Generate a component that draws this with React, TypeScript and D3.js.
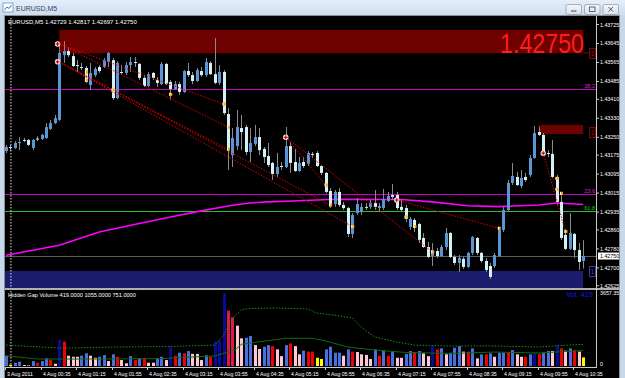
import React from 'react';
import * as d3 from 'd3';

// ---------------- DATA ----------------
const openP = [
  1.43192, 1.43209, 1.43205, 1.43226, 1.43239, 1.43239, 1.43205, 1.43245, 1.43243, 1.43247,
  1.43285, 1.43310, 1.43323, 1.43596, 1.43613, 1.43592, 1.43554, 1.43546, 1.43542, 1.43470,
  1.43512, 1.43546, 1.43546, 1.43567, 1.43575, 1.43415, 1.43525, 1.43521, 1.43554, 1.43567,
  1.43559, 1.43500, 1.43466, 1.43521, 1.43491, 1.43474, 1.43559, 1.43483, 1.43453, 1.43474,
  1.43441, 1.43529, 1.43512, 1.43487, 1.43529, 1.43512, 1.43563, 1.43516, 1.43479, 1.43525,
  1.43348, 1.43175, 1.43213, 1.43289, 1.43293, 1.43188, 1.43222, 1.43251, 1.43201, 1.43171,
  1.43142, 1.43095, 1.43129, 1.43125, 1.43213, 1.43146, 1.43108, 1.43146, 1.43138, 1.43180,
  1.43184, 1.43129, 1.43100, 1.43024, 1.42969, 1.43020, 1.42965, 1.42952, 1.42843, 1.42931,
  1.42935, 1.42957, 1.42957, 1.42973, 1.42952, 1.42952, 1.42982, 1.43007, 1.43007, 1.42957,
  1.42952, 1.42872, 1.42902, 1.42885, 1.42826, 1.42788, 1.42750, 1.42771, 1.42750, 1.42788,
  1.42847, 1.42746, 1.42721, 1.42738, 1.42704, 1.42763, 1.42826, 1.42763, 1.42729, 1.42708,
  1.42708, 1.42750, 1.42860, 1.42944, 1.43058, 1.43083, 1.43045, 1.43083, 1.43091, 1.43163,
  1.43272, 1.43260, 1.43184, 1.43180, 1.43083, 1.42978, 1.42839, 1.42780, 1.42843, 1.42775,
  1.42729,
];
const highP = [
  1.43218, 1.43218, 1.43234, 1.43251, 1.43247, 1.43243, 1.43243, 1.43255, 1.43264, 1.43310,
  1.43323, 1.43344, 1.43643, 1.43655, 1.43630, 1.43605, 1.43575, 1.43563, 1.43550, 1.43563,
  1.43546, 1.43554, 1.43584, 1.43609, 1.43584, 1.43571, 1.43554, 1.43567, 1.43588, 1.43588,
  1.43563, 1.43512, 1.43525, 1.43525, 1.43504, 1.43567, 1.43563, 1.43491, 1.43487, 1.43483,
  1.43533, 1.43563, 1.43525, 1.43542, 1.43546, 1.43584, 1.43571, 1.43668, 1.43554, 1.43533,
  1.43373, 1.43289, 1.43365, 1.43344, 1.43302, 1.43289, 1.43302, 1.43289, 1.43209, 1.43226,
  1.43146, 1.43184, 1.43146, 1.43293, 1.43230, 1.43201, 1.43167, 1.43167, 1.43192, 1.43188,
  1.43192, 1.43133, 1.43104, 1.43036, 1.43028, 1.43036, 1.42978, 1.42957, 1.42931, 1.42994,
  1.42973, 1.42973, 1.42986, 1.43028, 1.42973, 1.43032, 1.43020, 1.43053, 1.43020, 1.42986,
  1.42965, 1.42914, 1.42910, 1.42889, 1.42847, 1.42809, 1.42805, 1.42784, 1.42797, 1.42868,
  1.42851, 1.42754, 1.42754, 1.42746, 1.42767, 1.42834, 1.42830, 1.42767, 1.42742, 1.42721,
  1.42763, 1.42868, 1.42957, 1.43070, 1.43142, 1.43104, 1.43112, 1.43100, 1.43175, 1.43298,
  1.43293, 1.43268, 1.43196, 1.43239, 1.43091, 1.43015, 1.42864, 1.42931, 1.42847, 1.42805,
  1.42817,
];
const lowP = [
  1.43184, 1.43192, 1.43201, 1.43196, 1.43230, 1.43213, 1.43196, 1.43234, 1.43239, 1.43243,
  1.43281, 1.43306, 1.43319, 1.43563, 1.43588, 1.43546, 1.43525, 1.43533, 1.43479, 1.43449,
  1.43504, 1.43521, 1.43542, 1.43546, 1.43407, 1.43411, 1.43512, 1.43512, 1.43525, 1.43546,
  1.43491, 1.43462, 1.43462, 1.43491, 1.43462, 1.43470, 1.43470, 1.43407, 1.43449, 1.43428,
  1.43437, 1.43504, 1.43474, 1.43483, 1.43504, 1.43504, 1.43512, 1.43474, 1.43470, 1.43344,
  1.43112, 1.43125, 1.43196, 1.43196, 1.43175, 1.43146, 1.43213, 1.43175, 1.43142, 1.43125,
  1.43070, 1.43083, 1.43112, 1.43121, 1.43100, 1.43104, 1.43104, 1.43121, 1.43129, 1.43163,
  1.43125, 1.43091, 1.43015, 1.42952, 1.42957, 1.42957, 1.42944, 1.42830, 1.42826, 1.42923,
  1.42923, 1.42944, 1.42948, 1.42944, 1.42935, 1.42944, 1.42978, 1.42986, 1.42944, 1.42935,
  1.42893, 1.42860, 1.42851, 1.42805, 1.42784, 1.42742, 1.42708, 1.42742, 1.42746, 1.42775,
  1.42742, 1.42712, 1.42683, 1.42695, 1.42700, 1.42754, 1.42754, 1.42721, 1.42683, 1.42653,
  1.42700, 1.42746, 1.42851, 1.42935, 1.43049, 1.43045, 1.43036, 1.43062, 1.43083, 1.43159,
  1.43255, 1.43180, 1.43167, 1.43079, 1.42965, 1.42818, 1.42775, 1.42775, 1.42742, 1.42691,
  1.42697,
];
const closeP = [
  1.43209, 1.43205, 1.43226, 1.43230, 1.43237, 1.43218, 1.43239, 1.43243, 1.43260, 1.43293,
  1.43310, 1.43331, 1.43605, 1.43613, 1.43596, 1.43550, 1.43552, 1.43542, 1.43483, 1.43521,
  1.43538, 1.43529, 1.43575, 1.43605, 1.43415, 1.43563, 1.43521, 1.43554, 1.43567, 1.43563,
  1.43500, 1.43466, 1.43516, 1.43500, 1.43479, 1.43559, 1.43474, 1.43453, 1.43474, 1.43441,
  1.43529, 1.43512, 1.43487, 1.43533, 1.43512, 1.43567, 1.43516, 1.43479, 1.43525, 1.43352,
  1.43205, 1.43247, 1.43293, 1.43272, 1.43188, 1.43226, 1.43251, 1.43196, 1.43167, 1.43133,
  1.43095, 1.43125, 1.43127, 1.43213, 1.43142, 1.43108, 1.43142, 1.43129, 1.43184, 1.43178,
  1.43129, 1.43100, 1.43020, 1.42969, 1.43020, 1.42965, 1.42952, 1.42843, 1.42923, 1.42969,
  1.42957, 1.42954, 1.42973, 1.42957, 1.42961, 1.42990, 1.43003, 1.42999, 1.42952, 1.42944,
  1.42906, 1.42906, 1.42868, 1.42818, 1.42788, 1.42746, 1.42775, 1.42750, 1.42788, 1.42847,
  1.42746, 1.42721, 1.42742, 1.42704, 1.42763, 1.42830, 1.42763, 1.42729, 1.42691, 1.42662,
  1.42754, 1.42860, 1.42944, 1.43058, 1.43087, 1.43049, 1.43079, 1.43070, 1.43163, 1.43268,
  1.43260, 1.43188, 1.43180, 1.43083, 1.42978, 1.42826, 1.42780, 1.42847, 1.42775, 1.42725,
  1.42750,
];

const volumes = [
  500, 60, 160, 210, 50, 30, 240, 160, 240, 370,
  310, 110, 1270, 1190, 500, 450, 450, 500, 620, 500,
  400, 450, 530, 240, 570, 450, 290, 130, 480, 290,
  370, 370, 160, 160, 370, 450, 290, 940, 500, 650,
  620, 730, 590, 590, 290, 520, 450, 1190, 1240, 3545,
  2700, 2375, 1965, 1350, 1380, 1460, 1020, 830, 940, 1020,
  970, 810, 480, 1020, 1100, 970, 570, 750, 700, 700,
  400, 340, 810, 940, 650, 650, 500, 810, 700, 680,
  570, 540, 340, 810, 500, 750, 500, 680, 400, 400,
  590, 730, 680, 730, 620, 480, 970, 810, 860, 570,
  650, 890, 970, 700, 700, 860, 370, 570, 570, 620,
  450, 650, 650, 650, 780, 570, 450, 450, 570, 620,
  590, 650, 730, 730, 1020, 860, 750, 860, 780, 700,
  419,
];
// B blue, N navy, R red, C crimson, P pink, Y yellow
const volKinds =
  'BYBBPPBRBB' + 'RPNRPPPBBP' + 'PBBPBRPPBR' + 'BRPPBBPNRB' + 'RBPPPBRNNN' +
  'CCPPBBPPBB' + 'RPPBRPPBRR' + 'YYBBBBPBRP' + 'PPPBRBRBPP' + 'BBRBPPNRBP' +
  'BBBPRBPBRB' + 'PBBRBPPRBN' + 'RBBPNRPBRP' + 'Y';

const volDottedAvg: [number, number][] = [
  [0, 1020], [13, 870], [22, 920], [37, 950], [47, 1020], [49, 1500], [51, 2300], [53, 2750],
  [55, 2800], [60, 2830], [68, 2780], [70, 2580], [75, 2450], [78, 2340], [80, 1900],
  [83, 1415], [88, 1170], [92, 1020], [100, 975], [110, 975], [120, 930], [125, 1000], [130, 1055],
];
const volSolidAvg: [number, number][] = [
  [0, 500], [7, 340], [20, 340], [35, 360], [40, 420], [47, 490], [50, 680], [52, 860],
  [53, 1060], [56, 1150], [63, 1350], [69, 1350], [72, 1220], [77, 925], [83, 780],
  [90, 660], [100, 610], [110, 680], [120, 635], [130, 751],
];
const maLine: [number, number][] = [
  [0, 1.42753], [6, 1.42774], [12, 1.42795], [21, 1.42851], [30, 1.42887], [39, 1.42922],
  [44, 1.42940], [51, 1.42964], [55, 1.42973], [59, 1.42978], [66, 1.42983], [74, 1.42989],
  [89, 1.42988], [96, 1.42978], [104, 1.42962], [111, 1.42958], [120, 1.42965], [124, 1.42973],
  [130, 1.42967],
];

const priceTicks = [
  '1.43725', '1.43645', '1.43565', '1.43485', '1.43410', '1.43330', '1.43250', '1.43175',
  '1.43095', '1.43015', '1.42935', '1.42860', '1.42780', '1.42700', '1.42625',
];
const currentPrice = 1.4275;
const timeLabels: [number, string][] = [
  [0, '3 Aug 2011'], [8, '4 Aug 00:35'], [16, '4 Aug 01:15'], [24, '4 Aug 01:55'],
  [32, '4 Aug 02:35'], [40, '4 Aug 03:15'], [48, '4 Aug 03:55'], [56, '4 Aug 04:35'],
  [64, '4 Aug 05:15'], [72, '4 Aug 05:55'], [80, '4 Aug 06:35'], [88, '4 Aug 07:15'],
  [96, '4 Aug 07:55'], [104, '4 Aug 08:35'], [112, '4 Aug 09:15'], [120, '4 Aug 09:55'],
  [128, '4 Aug 10:35'],
];
const levelPrices = [1.43452, 1.4301, 1.42938];
const levelLabels = ['38.2', '23.6', '61.8'];

// zones: [startIndex, endIndex, topPrice, bottomPrice]
const redZones: [number, number, number, number][] = [
  [12, 130, 1.43702, 1.43604],
  [120, 130, 1.43302, 1.43264],
];
const blueZone: [number, number, number, number] = [-0.3, 130, 1.42687, 1.426];

// trend lines: [i1, p1, i2, p2]
const trendLines: [number, number, number, number][] = [
  [12, 1.43643, 49, 1.4339],
  [12, 1.43643, 50, 1.43293],
  [12, 1.43567, 50, 1.432],
  [12, 1.43567, 73, 1.42965],
  [12, 1.43567, 78, 1.42874],
  [63, 1.43251, 72, 1.43049],
  [63, 1.43251, 96, 1.42767],
  [88, 1.42986, 111, 1.42867],
  [121, 1.43184, 126, 1.42853],
];
const crossMarks: [number, number][] = [
  [11.6, 1.43643], [11.6, 1.43568], [63, 1.4325], [88, 1.42986], [121, 1.43183],
];
const arrowMarks: [number, number][] = [
  [18, 1.43525], [18, 1.43491], [24, 1.43449], [37, 1.43431], [49, 1.4339], [50, 1.43292],
  [50, 1.432], [72, 1.43049], [73, 1.42965], [78, 1.42874], [90, 1.42914], [92, 1.42874],
  [96, 1.42767], [111, 1.42867], [124, 1.43077], [124, 1.43031], [125, 1.43014], [126, 1.42853],
];

const headerText = 'EURUSD,M5  1.42729 1.42817 1.42697 1.42750';
const volHeader = 'Hidden Gap Volume 419.0000 1055.0000 751.0000';

// ---------------- CHART ----------------
const FONT = 'Liberation Sans, Arial, sans-serif';
const levelColors = ['#c400c4', '#c400c4', '#22c422'];
const levelLabelColors = ['#d020d0', '#d020d0', '#22c422'];
const volColorMap: Record<string, string> = {
  B: '#4a6fe0', N: '#0a0a9a', R: '#f00000', C: '#e0194c', P: '#ffc8d2', Y: '#ffff00',
};

export default function App() {
  const x = d3.scaleLinear().domain([0, 130]).range([6, 583.2]);
  const y = d3.scaleLinear().domain([1.42625, 1.43725]).range([285.7, 24.5]);
  const yv = d3.scaleLinear().domain([0, 3657.35]).range([366, 291]);

  const maPath = d3.line<[number, number]>().x(d => x(d[0])).y(d => y(d[1]))(maLine) || '';
  const dottedPath = d3.line<[number, number]>().x(d => x(d[0])).y(d => yv(d[1]))(volDottedAvg) || '';
  const solidPath = d3.line<[number, number]>().x(d => x(d[0])).y(d => yv(d[1]))(volSolidAvg) || '';

  const paneL = 5, paneR = 596;

  return (
    <svg width={625} height={378} viewBox="0 0 625 378"
      style={{ position: 'fixed', left: 0, top: 0, display: 'block' }}
      fontFamily={FONT}>
      <defs>
        <linearGradient id="tb" x1="0" y1="0" x2="0" y2="1">
          <stop offset="0" stopColor="#e6eff9" />
          <stop offset="1" stopColor="#c9dbef" />
        </linearGradient>
        <linearGradient id="btn" x1="0" y1="0" x2="0" y2="1">
          <stop offset="0" stopColor="#f4f7fb" />
          <stop offset="1" stopColor="#d6e2ef" />
        </linearGradient>
        <clipPath id="mainClip"><rect x={paneL} y={16} width={paneR - paneL} height={272} /></clipPath>
        <clipPath id="volClip"><rect x={paneL} y={290} width={paneR - paneL} height={77} /></clipPath>
      </defs>

      {/* window frame */}
      <rect x={0} y={0} width={625} height={378} fill="#c8d8eb" />
      <rect x={0} y={0} width={625} height={16} fill="url(#tb)" />
      <rect x={3} y={3} width={10} height={9} fill="#ffffff" stroke="#6b8fbf" strokeWidth={0.8} />
      <path d="M4.5,10 L7,7 L9,8.5 L11.5,5" stroke="#2f6fc0" strokeWidth={1} fill="none" />
      <text x={16} y={10.5} fontSize={7} fill="#34475c">EURUSD,M5</text>
      {[566, 584.5, 603].map((bx, k) => (
        <g key={k}>
          <rect x={bx} y={4.5} width={15.5} height={10} rx={1.5} fill="url(#btn)" stroke="#8797ab" strokeWidth={0.7} />
          {k === 0 && <line x1={bx + 5} x2={bx + 10.5} y1={11} y2={11} stroke="#444" strokeWidth={1} />}
          {k === 1 && <rect x={bx + 5} y={7} width={5.5} height={4.5} fill="none" stroke="#444" strokeWidth={0.8} />}
          {k === 2 && <path d={`M${bx + 5.5},7 L${bx + 10},11.5 M${bx + 10},7 L${bx + 5.5},11.5`} stroke="#444" strokeWidth={0.9} />}
        </g>
      ))}

      {/* chart background */}
      <rect x={4.5} y={15.5} width={615} height={363} fill="#000" stroke="#8c8c8c" strokeWidth={1} />

      {/* main pane */}
      <g clipPath="url(#mainClip)">
        {redZones.map((z, k) => (
          <rect key={k} x={x(z[0])} y={y(z[2])} width={x(z[1]) - x(z[0])} height={y(z[3]) - y(z[2])} fill="#6e0000" />
        ))}
        <rect x={paneL} y={y(blueZone[2])} width={x(blueZone[1]) - paneL} height={y(blueZone[3]) - y(blueZone[2])} fill="#1c1c6e" />

        {levelPrices.map((p, k) => (
          <line key={k} x1={paneL} x2={paneR} y1={Math.round(y(p)) + 0.5} y2={Math.round(y(p)) + 0.5}
            stroke={levelColors[k]} strokeWidth={1} />
        ))}
        <line x1={paneL} x2={paneR} y1={Math.round(y(currentPrice)) + 0.5} y2={Math.round(y(currentPrice)) + 0.5}
          stroke="#5c5c5c" strokeWidth={1.2} />
        <path d={maPath} fill="none" stroke="#ff00ff" strokeWidth={1.6} />

        {/* candles */}
        {openP.map((o, i) => {
          const c = closeP[i];
          const cx = Math.round(x(i));
          const top = y(Math.max(o, c));
          const bot = y(Math.min(o, c));
          const bull = c >= o;
          return (
            <g key={i}>
              <line x1={cx + 0.5} x2={cx + 0.5} y1={y(highP[i])} y2={y(lowP[i])} stroke="#8a8a8a" strokeWidth={1} />
              <rect x={cx - 1} y={top} width={3} height={Math.max(1, bot - top)}
                fill={bull ? '#5a96d6' : '#d4f2f6'} />
            </g>
          );
        })}

        {/* trend lines */}
        {trendLines.map((t, k) => (
          <line key={k} x1={x(t[0])} y1={y(t[1])} x2={x(t[2])} y2={y(t[3])}
            stroke="#e00000" strokeWidth={1} strokeDasharray="1.5,1.5" />
        ))}

        {arrowMarks.map((m, k) => (
          <g key={k}>
            <rect x={x(m[0]) - 1} y={y(m[1]) - 1.5} width={3} height={3} fill="#ffa500" />
            <rect x={x(m[0]) - 1} y={y(m[1]) - 1.5} width={1} height={3} fill="#ffffff" />
          </g>
        ))}
        {crossMarks.map((m, k) => (
          <g key={k}>
            <circle cx={x(m[0])} cy={y(m[1])} r={2.7} fill="#f2f2f2" />
            <path d={`M${x(m[0]) - 2},${y(m[1])} h4 M${x(m[0])},${y(m[1]) - 2} v4`} stroke="#e00000" strokeWidth={1.2} />
          </g>
        ))}

        <g transform="translate(584,52.5) scale(0.86,1)">
          <text x={0} y={0} fontSize={27} textAnchor="end" fill="#ff1c1c">1.42750</text>
        </g>

        {levelPrices.map((p, k) => (
          <text key={k} x={595} y={y(p) - 1.5} fontSize={5.5} textAnchor="end" fill={levelLabelColors[k]}>
            {levelLabels[k]}
          </text>
        ))}
      </g>

      {/* small label boxes */}
      <line x1={x(130)} x2={589} y1={53} y2={53} stroke="#8b0000" strokeWidth={1} />
      <rect x={589.5} y={48.5} width={6} height={10} fill="none" stroke="#8b0000" strokeWidth={1} />
      <text x={592.5} y={56} fontSize={6.5} textAnchor="middle" fill="#c00000">1</text>
      <rect x={589.5} y={127.5} width={6} height={10} fill="none" stroke="#8b0000" strokeWidth={1} />
      <text x={592.5} y={135} fontSize={6.5} textAnchor="middle" fill="#c00000">1</text>
      <rect x={589.5} y={266.5} width={6} height={10} fill="none" stroke="#3a3aa8" strokeWidth={1} />
      <text x={592.5} y={274} fontSize={6.5} textAnchor="middle" fill="#4444d0">1</text>

      {/* period separator */}
      <line x1={x(1) + 0.5} x2={x(1) + 0.5} y1={18} y2={367} stroke="#e0e0e0" strokeWidth={1} strokeDasharray="1.5,1.5" />

      <text x={8} y={24} fontSize={6} fill="#ffffff">{headerText}</text>

      {/* pane separator */}
      <rect x={paneL} y={288} width={615} height={2} fill="#b0b0b0" />

      {/* volume pane */}
      <g clipPath="url(#volClip)">
        {volumes.map((v, i) => {
          const cx = Math.round(x(i));
          return (
            <rect key={i} x={cx - 1} y={yv(v)} width={3} height={yv(0) - yv(v)}
              fill={volColorMap[volKinds[i]]} />
          );
        })}
        <path d={dottedPath} fill="none" stroke="#139013" strokeWidth={1} strokeDasharray="1.5,1.5" />
        <path d={solidPath} fill="none" stroke="#0c6c0c" strokeWidth={1} />
      </g>
      <text x={8} y={297} fontSize={5.6} fill="#ffffff">{volHeader}</text>
      <text x={593} y={297} fontSize={7.5} textAnchor="end" fill="#1818e8">Vol.  419</text>
      <line x1={paneL} x2={paneR} y1={367.5} y2={367.5} stroke="#c8c8c8" strokeWidth={1} />

      {/* price axis */}
      <line x1={paneR + 0.5} x2={paneR + 0.5} y1={16} y2={368} stroke="#c8c8c8" strokeWidth={1} />
      {priceTicks.map((t, k) => (
        <g key={k}>
          <line x1={paneR} x2={paneR + 3} y1={y(+t)} y2={y(+t)} stroke="#c8c8c8" strokeWidth={1} />
          <text x={600} y={y(+t) + 2} fontSize={5.3} fill="#ffffff">{t}</text>
        </g>
      ))}
      <rect x={598} y={y(currentPrice) - 3.5} width={21} height={7} fill="#ffffff" />
      <text x={600} y={y(currentPrice) + 2} fontSize={5.3} fill="#000000">{currentPrice.toFixed(5)}</text>
      <text x={600} y={295} fontSize={5.3} fill="#ffffff">3657.35</text>
      <text x={600} y={366} fontSize={5.3} fill="#ffffff">0</text>

      {/* time axis */}
      {timeLabels.map(([i, s], k) => {
        const cx = Math.round(x(i));
        return (
          <g key={k}>
            <line x1={cx - 0.5} x2={cx - 0.5} y1={367.5} y2={370} stroke="#c8c8c8" strokeWidth={1} />
            <text x={cx + 1} y={375.5} fontSize={5.2} fill="#ffffff">{s}</text>
          </g>
        );
      })}
    </svg>
  );
}
